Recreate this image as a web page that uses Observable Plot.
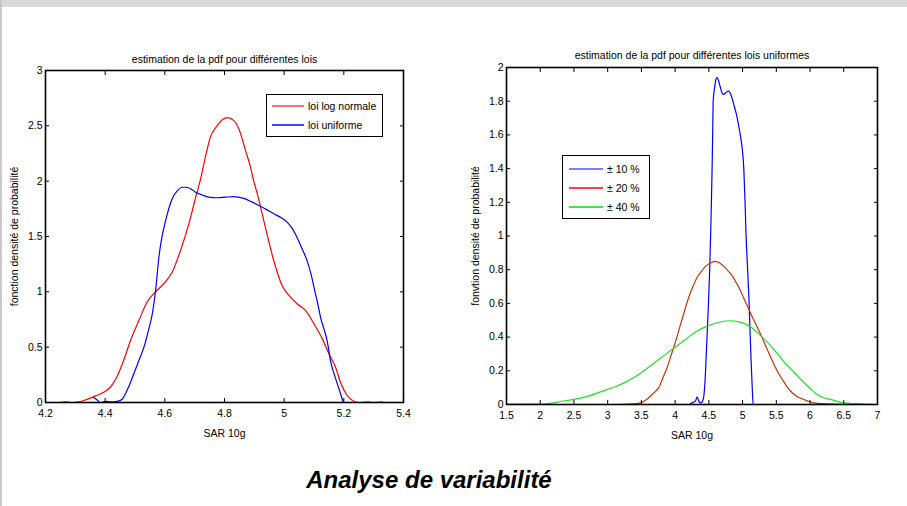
<!DOCTYPE html>
<html>
<head>
<meta charset="utf-8">
<script src="https://cdn.jsdelivr.net/npm/d3@7"></script>
<script src="https://cdn.jsdelivr.net/npm/@observablehq/plot@0.6"></script>
<style>
  body { margin: 0; background: #fff; }
  #page { position: relative; width: 907px; height: 506px; background: #fff; overflow: hidden; font-family: 'Liberation Sans', Arial, sans-serif; }
  .legend { position: absolute; background: #fff; border: 1.5px solid #000; box-sizing: border-box; }
  .legend .row { position: absolute; left: 0; height: 14px; font-size: 10.5px; line-height: 14px; white-space: nowrap; color: #000; }
  .legend svg { position: absolute; top: 0; }
</style>
</head>
<body>
<div id="page">
  <div style="position:absolute;left:0;top:0;width:907px;height:7px;background:#d9d9d9"></div>
  <div style="position:absolute;left:0;top:0;width:2px;height:506px;background:#c8c8c8"></div>
  <div id="left" style="position:absolute;left:0;top:0"></div>
  <div id="right" style="position:absolute;left:450px;top:0"></div>
  <div id="title" style="position:absolute;left:0;top:468px;width:858px;text-align:center;font:italic bold 24px/24px 'Liberation Sans',Arial,sans-serif;color:#000">Analyse de variabilité</div>
</div>
<script>
// ---------- DATA ----------
const leftTitle = "estimation de la pdf pour différentes lois";
const rightTitle = "estimation de la pdf pour différentes lois uniformes";
const xLabel = "SAR 10g";
const leftYLabel = "fonction densité de probabilité";
const rightYLabel = "fonvtion densité de probabilité";

const leftXTicks = [4.2, 4.4, 4.6, 4.8, 5, 5.2, 5.4];
const leftYTicks = [0, 0.5, 1, 1.5, 2, 2.5, 3];
const rightXTicks = [1.5, 2, 2.5, 3, 3.5, 4, 4.5, 5, 5.5, 6, 6.5, 7];
const rightYTicks = [0, 0.2, 0.4, 0.6, 0.8, 1, 1.2, 1.4, 1.6, 1.8, 2];

const leftNames = ["loi log normale", "loi uniforme"];
const rightNames = ["± 10 %", "± 20 %", "± 40 %"];

// left panel: log-normal law
const loiLogNormale = [
  [4.245,0],[4.27,0.005],[4.29,0],[4.31,0.005],[4.33,0.02],[4.368,0.06],[4.395,0.093],[4.418,0.14],
  [4.435,0.21],[4.462,0.38],[4.485,0.56],[4.513,0.74],[4.541,0.91],[4.569,1.0],[4.602,1.09],
  [4.625,1.18],[4.652,1.37],[4.68,1.61],[4.703,1.85],[4.72,2.02],[4.736,2.22],[4.753,2.40],
  [4.775,2.50],[4.795,2.56],[4.81,2.575],[4.825,2.56],[4.837,2.53],[4.854,2.43],[4.87,2.28],
  [4.887,2.13],[4.898,2.0],[4.91,1.886],[4.937,1.584],[4.965,1.283],[4.993,1.057],[5.016,0.967],
  [5.044,0.89],[5.072,0.83],[5.10,0.71],[5.128,0.575],[5.15,0.44],[5.172,0.32],[5.189,0.18],
  [5.211,0.063],[5.233,0.012],[5.25,0],[5.28,0.005],[5.30,0],[5.33,0.005]
];
// left panel: uniform law
const loiUniforme = [
  [4.36,0.045],[4.37,0.03],[4.384,0],[4.40,0.01],[4.42,0.005],[4.44,0.01],[4.457,0.03],[4.475,0.12],
  [4.496,0.26],[4.513,0.38],[4.53,0.50],[4.545,0.65],[4.558,0.80],[4.569,1.01],[4.58,1.31],
  [4.588,1.46],[4.597,1.58],[4.608,1.70],[4.619,1.80],[4.63,1.87],[4.641,1.91],[4.658,1.945],
  [4.672,1.945],[4.688,1.93],[4.703,1.90],[4.725,1.875],[4.747,1.855],[4.775,1.85],[4.803,1.855],
  [4.83,1.86],[4.865,1.845],[4.89,1.815],[4.915,1.78],[4.94,1.745],[4.965,1.705],[4.99,1.67],
  [5.01,1.63],[5.025,1.58],[5.038,1.52],[5.058,1.40],[5.077,1.28],[5.09,1.16],[5.10,1.04],
  [5.112,0.90],[5.122,0.77],[5.135,0.65],[5.144,0.56],[5.148,0.50],[5.155,0.38],[5.166,0.27],
  [5.178,0.17],[5.19,0.07],[5.198,0]
];
// right panel: ±10 %
const unif10 = [
  [1.5,0],[4.2,0],[4.25,0.01],[4.3,0.02],[4.327,0.045],[4.35,0.02],[4.376,0.01],[4.40,0.015],
  [4.425,0.05],[4.445,0.15],[4.465,0.33],[4.49,0.56],[4.514,0.82],[4.532,1.10],[4.549,1.42],
  [4.557,1.62],[4.564,1.80],[4.585,1.88],[4.605,1.93],[4.623,1.94],[4.645,1.92],[4.672,1.88],
  [4.70,1.845],[4.72,1.84],[4.75,1.85],[4.796,1.86],[4.82,1.845],[4.846,1.815],[4.87,1.78],
  [4.91,1.72],[4.944,1.65],[4.97,1.59],[4.994,1.52],[5.018,1.40],[5.035,1.22],[5.05,1.02],
  [5.07,0.84],[5.093,0.64],[5.11,0.44],[5.128,0.24],[5.145,0.08],[5.157,0],[6.6,0]
];
// right panel: ±20 %
const unif20 = [
  [3.14,0],[3.3,0.002],[3.487,0.01],[3.56,0.025],[3.635,0.05],[3.70,0.075],[3.758,0.10],[3.82,0.16],
  [3.882,0.22],[3.93,0.28],[3.98,0.34],[4.054,0.44],[4.128,0.54],[4.18,0.61],[4.228,0.665],
  [4.28,0.715],[4.327,0.755],[4.39,0.79],[4.45,0.82],[4.52,0.84],[4.6,0.85],[4.66,0.84],[4.72,0.82],
  [4.78,0.795],[4.846,0.765],[4.91,0.72],[4.969,0.675],[5.03,0.62],[5.093,0.565],[5.155,0.51],
  [5.217,0.46],[5.28,0.405],[5.34,0.35],[5.40,0.295],[5.463,0.24],[5.525,0.19],[5.587,0.15],
  [5.66,0.105],[5.735,0.07],[5.82,0.045],[5.907,0.03],[5.98,0.018],[6.056,0.01],[6.2,0.005],
  [6.4,0.002],[6.6,0]
];
// right panel: ±40 %
const unif40 = [
  [1.5,0.003],[2.0,0.003],[2.2,0.01],[2.3,0.018],[2.5,0.03],[2.7,0.048],[2.894,0.075],[3.0,0.09],
  [3.14,0.11],[3.25,0.13],[3.387,0.16],[3.487,0.185],[3.635,0.23],[3.832,0.29],[4.0,0.34],
  [4.128,0.378],[4.3,0.43],[4.475,0.465],[4.62,0.485],[4.796,0.497],[4.95,0.49],[5.117,0.462],
  [5.25,0.415],[5.365,0.37],[5.5,0.31],[5.611,0.255],[5.74,0.2],[5.859,0.15],[6.0,0.095],
  [6.106,0.06],[6.2,0.04],[6.3,0.03],[6.5,0.01],[6.7,0.005],[7.0,0]
];

// ---------- STYLE ----------
const fontFamily = "'Liberation Sans', Arial, sans-serif";
const leftSeries = [
  {name: leftNames[0], points: loiLogNormale, color: "#ff0000", legend: "#ff4040"},
  {name: leftNames[1], points: loiUniforme, color: "#0000ff", legend: "#0000ff"}
];
const rightSeries = [
  {name: rightNames[0], points: unif10, color: "#0000ff", legend: "#5050ff"},
  {name: rightNames[1], points: unif20, color: "#cc3300", legend: "#ff0000"},
  {name: rightNames[2], points: unif40, color: "#22e022", legend: "#00e000"}
];

function panel({xDomain, yDomain, xTicks, yTicks, series, title, titleDy, yLabel, width, height, margins}) {
  return Plot.plot({
    width, height, ...margins,
    style: {fontFamily, fontSize: "10.5px", color: "#000", background: "transparent", overflow: "visible"},
    x: {domain: xDomain},
    y: {domain: yDomain},
    marks: [
      ...series.map(s => Plot.line(s.points, {x: d => d[0], y: d => d[1], stroke: s.color, strokeWidth: 1.2, curve: "monotone-x"})),
      Plot.axisX({ticks: xTicks, tickSize: -4, tickPadding: 11, tickFormat: d => String(d),
        label: xLabel, labelAnchor: "center", labelArrow: "none", labelOffset: 34, fontSize: 10.5}),
      Plot.axisX({anchor: "top", ticks: xTicks, tickSize: -4, tickFormat: () => "", label: null}),
      Plot.axisY({ticks: yTicks, tickSize: -4, tickPadding: 7, tickFormat: d => String(d),
        label: yLabel, labelAnchor: "center", labelArrow: "none", labelOffset: 35, fontSize: 10.5}),
      Plot.axisY({anchor: "right", ticks: yTicks, tickSize: -4, tickFormat: () => "", label: null}),
      Plot.frame({stroke: "#000", strokeWidth: 1.6}),
      Plot.text([title], {frameAnchor: "top", dy: titleDy, fontSize: 10.5})
    ]
  });
}

document.getElementById("left").append(panel({
  xDomain: [4.2, 5.4], yDomain: [0, 3], xTicks: leftXTicks, yTicks: leftYTicks,
  series: leftSeries, title: leftTitle, titleDy: -15, yLabel: leftYLabel,
  width: 450, height: 450, margins: {marginLeft: 45, marginRight: 47, marginTop: 70, marginBottom: 48}
}));
document.getElementById("right").append(panel({
  xDomain: [1.5, 7], yDomain: [0, 2], xTicks: rightXTicks, yTicks: rightYTicks,
  series: rightSeries, title: rightTitle, titleDy: -16, yLabel: rightYLabel,
  width: 457, height: 450, margins: {marginLeft: 56, marginRight: 30, marginTop: 67, marginBottom: 46}
}));

// legends (HTML overlays)
const SVGNS = "http://www.w3.org/2000/svg";
function legend(series, box, rowTops, swLeft, swWidth, textLeft) {
  const el = document.createElement("div");
  el.className = "legend";
  Object.assign(el.style, {left: box.left + "px", top: box.top + "px", width: box.width + "px", height: box.height + "px"});
  series.forEach((s, i) => {
    const row = document.createElement("div");
    row.className = "row";
    row.style.top = rowTops[i] + "px";
    row.style.width = box.width + "px";
    const svg = document.createElementNS(SVGNS, "svg");
    svg.setAttribute("width", swWidth);
    svg.setAttribute("height", 14);
    svg.style.left = swLeft + "px";
    const ln = document.createElementNS(SVGNS, "line");
    ln.setAttribute("x1", 0); ln.setAttribute("x2", swWidth);
    ln.setAttribute("y1", 7); ln.setAttribute("y2", 7);
    ln.setAttribute("stroke", s.legend); ln.setAttribute("stroke-width", 1.5);
    svg.append(ln);
    const tx = document.createElement("span");
    tx.textContent = s.name;
    Object.assign(tx.style, {position: "absolute", left: textLeft + "px", top: "0px"});
    row.append(svg, tx);
    el.append(row);
  });
  document.getElementById("page").append(el);
}
legend(leftSeries, {left: 266, top: 94, width: 117, height: 43}, [3.5, 22.5], 5, 32, 41);
legend(rightSeries, {left: 562, top: 155, width: 88, height: 64}, [5.5, 24.5, 43.5], 6, 34, 44);
</script>
</body>
</html>
